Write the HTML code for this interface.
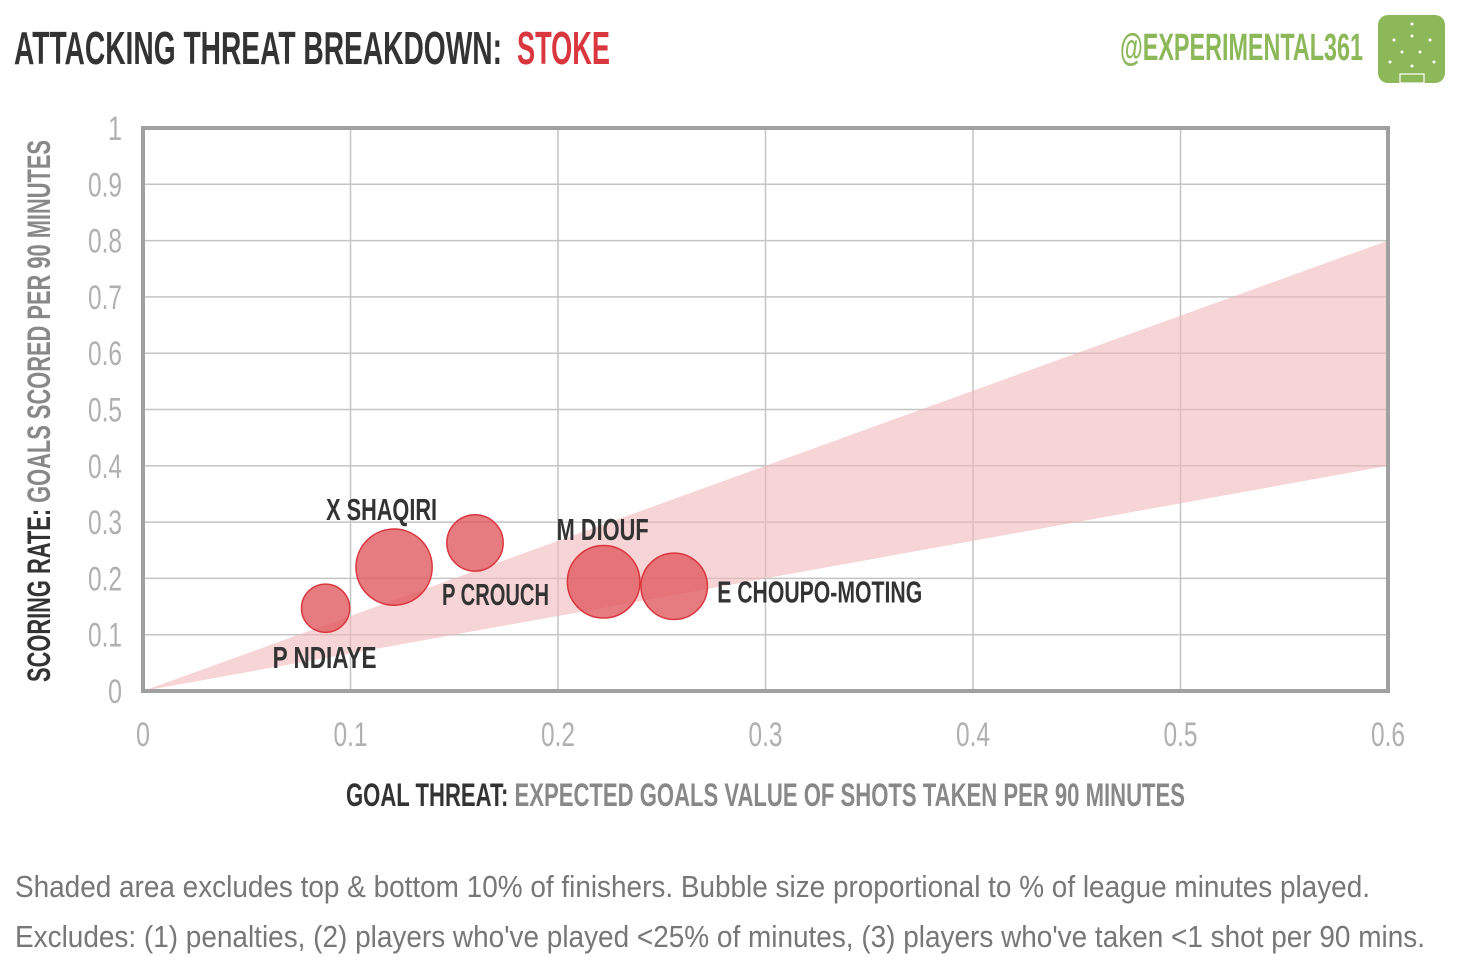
<!DOCTYPE html>
<html><head><meta charset="utf-8"><style>
html,body{margin:0;padding:0;background:#fff;}
svg{display:block;font-family:"Liberation Sans Narrow","Liberation Sans",sans-serif;}
</style></head><body>
<svg id="chart" width="1460" height="975" viewBox="0 0 1460 975" xmlns="http://www.w3.org/2000/svg">
<text x="14" y="64" font-size="46" font-weight="bold" fill="#333" textLength="488" lengthAdjust="spacingAndGlyphs">ATTACKING THREAT BREAKDOWN:</text>
<text x="517" y="64" font-size="46" font-weight="bold" fill="#d9363e" textLength="93" lengthAdjust="spacingAndGlyphs">STOKE</text>
<text x="1120" y="60" font-size="38" font-weight="bold" fill="#8db85a" textLength="243" lengthAdjust="spacingAndGlyphs">@EXPERIMENTAL361</text>
<g>
<rect x="1378" y="15" width="67" height="68" rx="10" fill="#8db85a"/>
<g fill="#fff"><circle cx="1394" cy="40" r="1.5"/><circle cx="1412" cy="36" r="1.5"/><circle cx="1430" cy="40" r="1.5"/><circle cx="1402" cy="52" r="1.5"/><circle cx="1420" cy="52" r="1.5"/><circle cx="1390" cy="62" r="1.5"/><circle cx="1412" cy="66" r="1.5"/><circle cx="1434" cy="62" r="1.5"/><circle cx="1412" cy="24" r="1.5"/></g>
<rect x="1400" y="74" width="24" height="9" fill="none" stroke="#fff" stroke-width="1.2"/>
</g>
<g id="grid"></g>
<polygon id="band" fill="#f2b8ba" fill-opacity="0.6"/>
<g id="bubbles"></g>
<rect x="143" y="128" width="1245" height="563" fill="none" stroke="#a0a0a0" stroke-width="4"/>
<g id="ticks"></g>
<text transform="translate(50,682) rotate(-90)" font-size="32" font-weight="bold" textLength="542" lengthAdjust="spacingAndGlyphs"><tspan fill="#333">SCORING RATE: </tspan><tspan fill="#888">GOALS SCORED PER 90 MINUTES</tspan></text>
<text x="346" y="806" font-size="32" font-weight="bold" textLength="839" lengthAdjust="spacingAndGlyphs"><tspan fill="#333">GOAL THREAT: </tspan><tspan fill="#888">EXPECTED GOALS VALUE OF SHOTS TAKEN PER 90 MINUTES</tspan></text>
<text x="15" y="897" font-size="31" fill="#777" textLength="1355" lengthAdjust="spacingAndGlyphs">Shaded area excludes top &amp; bottom 10% of finishers. Bubble size proportional to % of league minutes played.</text>
<text x="15" y="947" font-size="31" fill="#777" textLength="1410" lengthAdjust="spacingAndGlyphs">Excludes: (1) penalties, (2) players who've played &lt;25% of minutes, (3) players who've taken &lt;1 shot per 90 mins.</text>
</svg>
<script>
const xTicks=[0,0.1,0.2,0.3,0.4,0.5,0.6];
const yTicks=[0,0.1,0.2,0.3,0.4,0.5,0.6,0.7,0.8,0.9,1];
const xTickLabels=["0","0.1","0.2","0.3","0.4","0.5","0.6"];
const yTickLabels=["0","0.1","0.2","0.3","0.4","0.5","0.6","0.7","0.8","0.9","1"];
const players=["P NDIAYE","X SHAQIRI","P CROUCH","M DIOUF","E CHOUPO-MOTING"];
const xgValues=[0.088,0.121,0.160,0.222,0.256];
const goalValues=[0.147,0.220,0.263,0.194,0.186];
const minutesShare=[0.30,0.75,0.41,0.68,0.57];
const bandUpper=[0,0.8];
const bandLower=[0,0.4];
const bandX=[0,0.6];
const NS="http://www.w3.org/2000/svg";
const X=v=>143+v/0.6*1245, Y=v=>691-v*563;
const R=s=>44*Math.sqrt(s);
function mk(tag,attrs,parent){const e=document.createElementNS(NS,tag);for(const k in attrs)e.setAttribute(k,attrs[k]);parent.appendChild(e);return e;}
const tw=s=>s.length===1?14:34;
const grid=document.getElementById('grid'),ticks=document.getElementById('ticks'),bub=document.getElementById('bubbles');
xTicks.forEach((t,i)=>{
 const l=mk('line',{x1:X(t),x2:X(t),y1:128,y2:691,stroke:'#c4c4c4','stroke-width':1.5},grid);
 
 
 const tx=mk('text',{x:X(t),y:746,'font-size':34,fill:'#b0b0b0','text-anchor':'middle',textLength:tw(xTickLabels[i]),lengthAdjust:'spacingAndGlyphs'},ticks);
 tx.textContent=xTickLabels[i];
 
 
});
yTicks.forEach((t,i)=>{
 const l=mk('line',{x1:143,x2:1388,y1:Y(t),y2:Y(t),stroke:'#c4c4c4','stroke-width':1.5},grid);
 
 
 const tx=mk('text',{x:122,y:Y(t)+12,'font-size':34,fill:'#b0b0b0','text-anchor':'end',textLength:tw(yTickLabels[i]),lengthAdjust:'spacingAndGlyphs'},ticks);
 tx.textContent=yTickLabels[i];
 
 
});
document.getElementById('band').setAttribute('points',
 [[bandX[0],bandLower[0]],[bandX[1],bandUpper[1]],[bandX[1],bandLower[1]]].map(p=>X(p[0])+','+Y(p[1])).join(' '));
const labelDx=[-53,-68,-33,-47,43];
const labelDy=[60,-47,62,-42,16];
const labelW=[104,111,107,92,205];
players.forEach((p,i)=>{
 const cx=X(xgValues[i]),cy=Y(goalValues[i]),r=R(minutesShare[i]);
 const c=mk('circle',{cx:cx,cy:cy,r:r,fill:'#e05a60','fill-opacity':0.8,stroke:'#d9363e','stroke-width':1.5},bub);
 
 
 const t=mk('text',{x:cx+labelDx[i],y:cy+labelDy[i],'font-size':31,'font-weight':'bold',fill:'#333',textLength:labelW[i],lengthAdjust:'spacingAndGlyphs'},bub);
 t.textContent=p;
 
 
});
</script>
</body></html>
